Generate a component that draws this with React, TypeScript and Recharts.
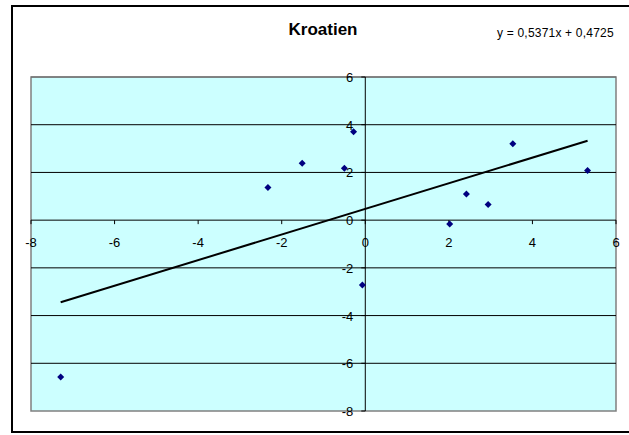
import React from 'react'
import { ScatterChart, Scatter, XAxis, YAxis, ReferenceArea, ReferenceLine, ReferenceDot } from 'recharts'

// Kroatien: paired observations
const xValues = [-7.29, -2.33, -1.51, -0.5, -0.28, -0.07, 2.02, 2.42, 2.94, 3.53, 5.32]
const yValues = [-6.58, 1.37, 2.38, 2.17, 3.71, -2.72, -0.16, 1.1, 0.66, 3.2, 2.08]

const xTicks = [-8, -6, -4, -2, 0, 2, 4, 6]
const yTicks = [-8, -6, -4, -2, 0, 2, 4, 6]

// linear trend shown in the header
const slope = 0.5371
const intercept = 0.4725

const points = xValues.map((x, i) => ({ x, y: yValues[i] }))
const xMin = Math.min(...xValues)
const xMax = Math.max(...xValues)
const trend = [
    { x: xMin, y: slope * xMin + intercept },
    { x: xMax, y: slope * xMax + intercept },
]

const fmt = (v: number) => v.toString().replace('.', ',')
const equation = `y = ${fmt(slope)}x + ${fmt(intercept)}`

const font = 'Arial, "Liberation Sans", sans-serif'

function Diamond(props: any) {
    const { cx, cy } = props
    const r = 3.5
    return <polygon points={`${cx},${cy - r} ${cx + r},${cy} ${cx},${cy + r} ${cx - r},${cy}`} fill="#000080" />
}

function XTick(label: number) {
    return (props: any) => {
        const { cx, cy } = props
        return (
            <g>
                <line x1={cx} y1={cy} x2={cx} y2={cy + 4} stroke="#000" strokeWidth={1} />
                <text x={cx} y={cy + 27} textAnchor="middle" fontSize={13} fontFamily={font} fill="#000">
                    {label}
                </text>
            </g>
        )
    }
}

function YTick(label: number) {
    return (props: any) => {
        const { cx, cy } = props
        return (
            <g>
                <line x1={cx - 4} y1={cy} x2={cx} y2={cy} stroke="#000" strokeWidth={1} />
                <text x={cx - 12} y={cy + 5} textAnchor="end" fontSize={13} fontFamily={font} fill="#000">
                    {label}
                </text>
            </g>
        )
    }
}

export default function App() {
    return (
        <div style={{ position: 'absolute', left: 0, top: 0, width: 629, height: 435, overflow: 'hidden', background: '#fff' }}>
            <div
                style={{
                    position: 'absolute',
                    left: 11,
                    top: 5,
                    width: 640,
                    height: 428,
                    border: '2px solid #000',
                    boxSizing: 'border-box',
                }}
            />
            <div
                style={{
                    position: 'absolute',
                    left: 223,
                    width: 200,
                    top: 20,
                    textAlign: 'center',
                    fontFamily: font,
                    fontWeight: 'bold',
                    fontSize: 17,
                }}
            >
                Kroatien
            </div>
            <div
                style={{
                    position: 'absolute',
                    left: 497,
                    top: 26,
                    fontFamily: font,
                    fontSize: 12,
                    letterSpacing: 0.2,
                    whiteSpace: 'nowrap',
                }}
            >
                {equation}
            </div>
            <div style={{ position: 'absolute', left: 0, top: 0 }}>
                <ScatterChart width={629} height={435} margin={{ top: 77, right: 13, bottom: 24, left: 31 }}>
                    <XAxis type="number" dataKey="x" domain={[-8, 6]} ticks={xTicks} hide allowDataOverflow />
                    <YAxis type="number" dataKey="y" domain={[-8, 6]} ticks={yTicks} hide allowDataOverflow />
                    <ReferenceArea x1={-8} x2={6} y1={-8} y2={6} fill="#CCFFFF" fillOpacity={1} stroke="#808080" strokeWidth={1.5} />
                    {yTicks
                        .filter((t) => t !== -8)
                        .map((t) => (
                            <ReferenceLine key={`g${t}`} y={t} stroke={t === 6 ? '#666' : '#000'} strokeWidth={1} />
                        ))}
                    <ReferenceLine x={0} stroke="#000" strokeWidth={1} />
                    {xTicks.map((t) => (
                        <ReferenceDot key={`xt${t}`} x={t} y={0} r={0} shape={XTick(t)} ifOverflow="visible" />
                    ))}
                    {yTicks.map((t) => (
                        <ReferenceDot key={`yt${t}`} x={0} y={t} r={0} shape={YTick(t)} ifOverflow="visible" />
                    ))}
                    <Scatter
                        data={trend}
                        line={{ stroke: '#000', strokeWidth: 2 }}
                        shape={() => <g />}
                        isAnimationActive={false}
                    />
                    <Scatter data={points} shape={Diamond} isAnimationActive={false} />
                </ScatterChart>
            </div>
        </div>
    )
}
